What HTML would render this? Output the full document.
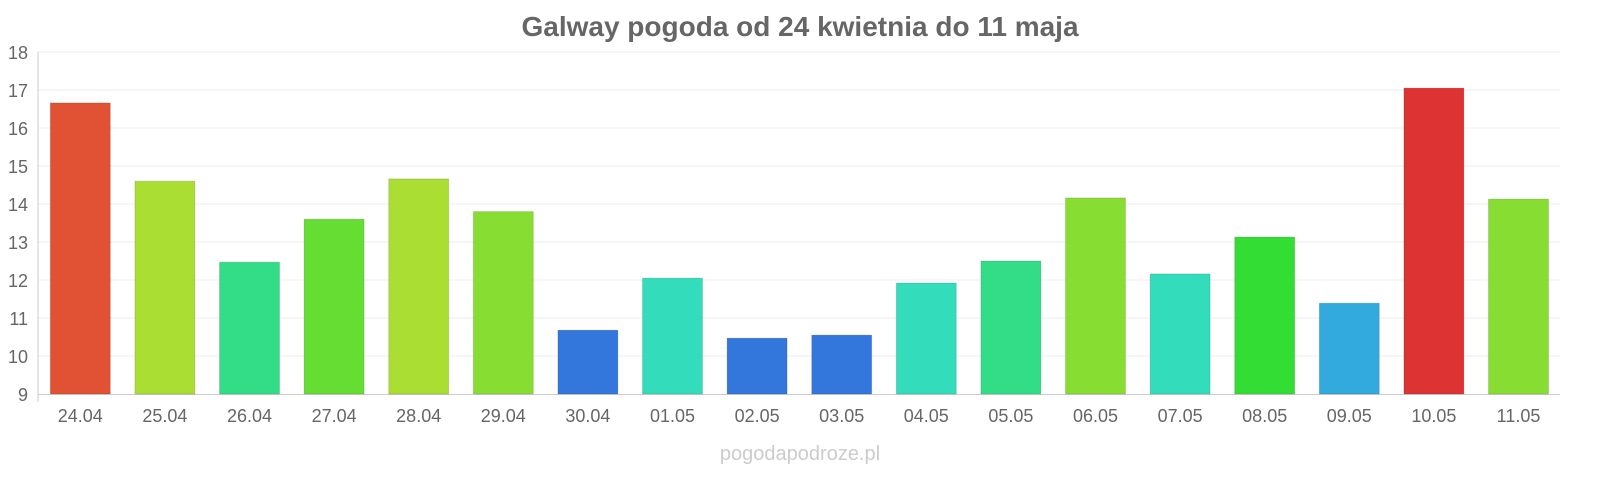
<!DOCTYPE html>
<html><head><meta charset="utf-8"><style>
html,body{margin:0;padding:0;background:#fff;}
svg{display:block;font-family:"Liberation Sans",sans-serif;}
</style></head><body>
<svg width="1600" height="480" viewBox="0 0 1600 480" xmlns="http://www.w3.org/2000/svg">
<text x="800" y="36" text-anchor="middle" font-size="28" font-weight="bold" fill="#666">Galway pogoda od 24 kwietnia do 11 maja</text>
<g stroke="#eee" stroke-width="1">
<line x1="38" y1="52" x2="1560" y2="52"/>
<line x1="38" y1="90" x2="1560" y2="90"/>
<line x1="38" y1="128" x2="1560" y2="128"/>
<line x1="38" y1="166" x2="1560" y2="166"/>
<line x1="38" y1="204" x2="1560" y2="204"/>
<line x1="38" y1="242" x2="1560" y2="242"/>
<line x1="38" y1="280" x2="1560" y2="280"/>
<line x1="38" y1="318" x2="1560" y2="318"/>
<line x1="38" y1="356" x2="1560" y2="356"/>
</g>
<line x1="38" y1="52" x2="38" y2="402" stroke="#ccc"/>
<line x1="38" y1="394.5" x2="1560" y2="394.5" stroke="#ccc"/>
<g font-size="18" fill="#666" text-anchor="end">
<text x="28" y="59">18</text><text x="28" y="97">17</text><text x="28" y="135">16</text>
<text x="28" y="173">15</text><text x="28" y="211">14</text><text x="28" y="249">13</text>
<text x="28" y="287">12</text><text x="28" y="325">11</text><text x="28" y="363">10</text>
<text x="28" y="401">9</text>
</g>
<g id="bars"></g>
<g font-size="18" fill="#666" text-anchor="middle" id="labels"></g>
<text x="800" y="460" text-anchor="middle" font-size="20" fill="#ccc">pogodapodroze.pl</text>
<script>
var d=[["24.04",16.66,"#e05233"],["25.04",14.6,"#aade33"],["26.04",12.47,"#33dd88"],["27.04",13.6,"#66dd33"],["28.04",14.66,"#aade33"],["29.04",13.8,"#88dd33"],["30.04",10.68,"#3377dd"],["01.05",12.05,"#33ddbb"],["02.05",10.47,"#3377dd"],["03.05",10.55,"#3377dd"],["04.05",11.92,"#33ddbb"],["05.05",12.5,"#33dd88"],["06.05",14.16,"#88dd33"],["07.05",12.16,"#33ddbb"],["08.05",13.13,"#33dd33"],["09.05",11.39,"#33aadd"],["10.05",17.05,"#dd3333"],["11.05",14.13,"#88dd33"]];
var ns="http://www.w3.org/2000/svg",b=document.getElementById("bars"),l=document.getElementById("labels");
d.forEach(function(e,i){var c=80.3+i*84.6,t=394-(e[1]-9)*38;
var r=document.createElementNS(ns,"rect");r.setAttribute("x",c-30);r.setAttribute("y",t);r.setAttribute("width",60);r.setAttribute("height",394-t);r.setAttribute("fill",e[2]);r.setAttribute("stroke","rgba(0,0,0,0.12)");r.setAttribute("stroke-width","1");b.appendChild(r);
var s=document.createElementNS(ns,"text");s.setAttribute("x",c);s.setAttribute("y",422);s.textContent=e[0];l.appendChild(s);});
</script>
</svg>
</body></html>
